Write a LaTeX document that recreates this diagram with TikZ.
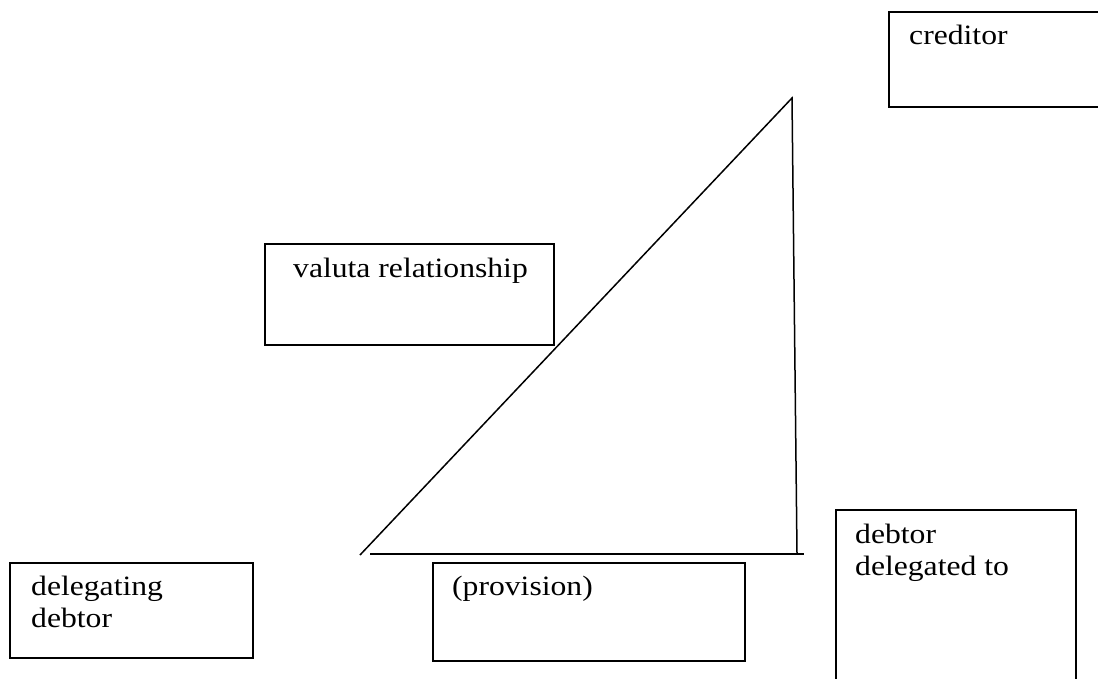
\documentclass[tikz,border=0pt]{standalone}
\usepackage{fontspec}
\setmainfont{Liberation Serif}
\usepackage{graphicx}
\newcommand{\wt}[1]{\scalebox{1.13}[1]{#1}}
\begin{document}
\begin{tikzpicture}[x=1pt,y=-1pt,
  box/.style={draw,line width=1.7pt,rectangle,anchor=north west,inner sep=0pt},
  lbl/.style={anchor=base west,inner sep=0pt,font=\fontsize{28}{32}\selectfont},
  edge/.style={line width=1.5pt}]
\useasboundingbox (0,0) rectangle (1098,678);
% boxes
\node[box,minimum width=210pt,minimum height=95pt] (cbox) at (888,11) {};
\node[box,minimum width=289pt,minimum height=101pt] (vbox) at (264,243) {};
\node[box,minimum width=243pt,minimum height=95pt] (dbox) at (9,562) {};
\node[box,minimum width=312pt,minimum height=98pt] (pbox) at (432,562) {};
\node[box,minimum width=240pt,minimum height=190pt] (tbox) at (835,509) {};
% labels
\node[lbl] (ct) at (909,44) {\wt{creditor}};
\node[lbl] (vt) at (293,277) {\wt{valuta relationship}};
\node[lbl] (dt1) at (31,595) {\wt{delegating}};
\node[lbl] (dt2) at (31,627) {\wt{debtor}};
\node[lbl] (pt) at (452,595) {\wt{(provision)}};
\node[lbl] (tt1) at (855,543) {\wt{debtor}};
\node[lbl] (tt2) at (855,575) {\wt{delegated to}};
% triangle
\coordinate (a) at (360,555);
\coordinate (apex) at (792,98);
\coordinate (vb) at (797,553);
\coordinate (h1) at (370,554);
\coordinate (h2) at (804,554);
\draw[edge] (a) -- (apex) -- (vb);
\draw[edge] (h1) -- (h2);
\end{tikzpicture}
\end{document}
